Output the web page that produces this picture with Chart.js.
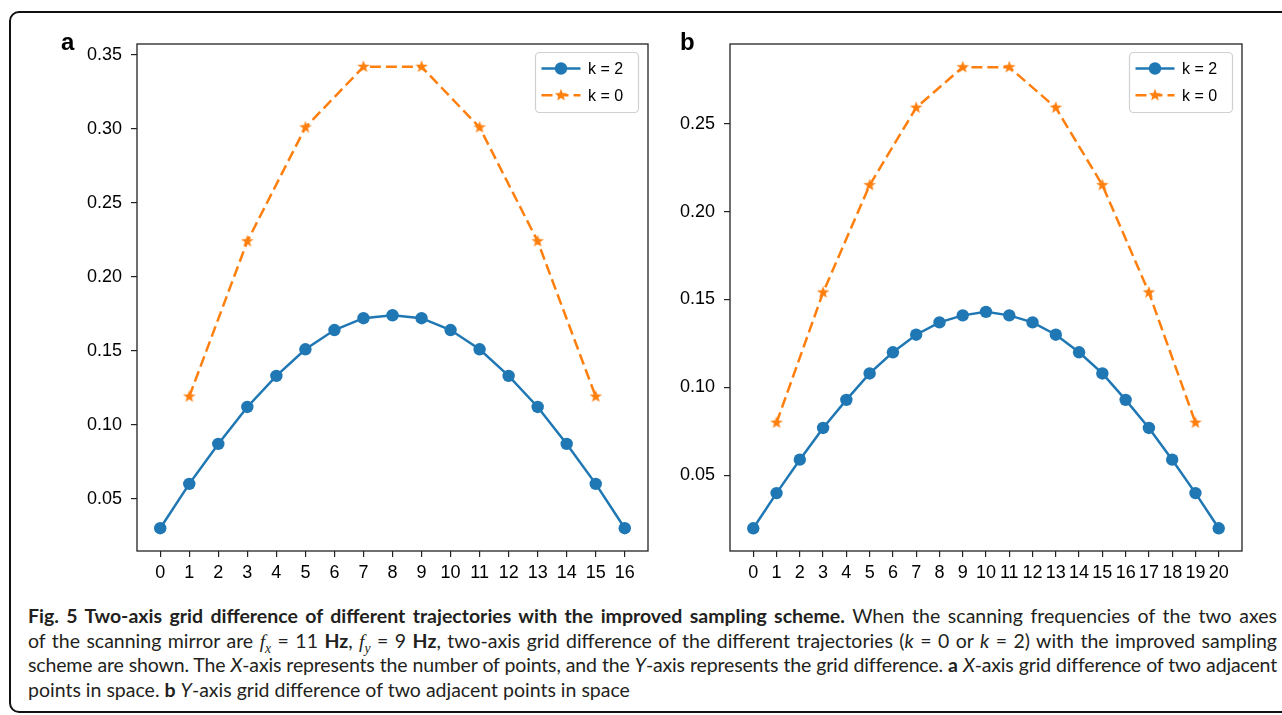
<!DOCTYPE html>
<html>
<head>
<meta charset="utf-8">
<script src="https://cdn.jsdelivr.net/npm/chart.js@4/dist/chart.umd.min.js"></script>
<style>
body{margin:0;background:#fff;width:1282px;height:715px;overflow:hidden;position:relative;font-family:"Liberation Sans",Arial,sans-serif}
#frame{position:absolute;left:9px;top:11px;width:1300px;height:702px;border:2px solid #111;border-radius:10px;box-sizing:border-box}
canvas{position:absolute;top:0}
#ca{left:0}
#cb{left:660px}
.lab{position:absolute;font-weight:bold;font-size:24px;line-height:24px;color:#000}
#caption{position:absolute;left:28px;top:604px;width:1249px;font-family:Lato,"Open Sans",sans-serif;font-size:19.5px;line-height:24.5px;color:#231f20}
#caption div{text-align:justify;text-align-last:justify;height:24.5px}
#caption div.last{text-align-last:left}
.mf{font-family:"Liberation Serif",serif;font-style:italic}
sub{font-size:70%;line-height:0}
</style>
</head>
<body>
<div id="frame"></div>
<canvas id="ca" width="660" height="600"></canvas>
<canvas id="cb" width="600" height="600"></canvas>
<div class="lab" style="left:61px;top:30px">a</div>
<div class="lab" style="left:680px;top:30px">b</div>
<div id="caption">
<div><b>Fig. 5 Two-axis grid difference of different trajectories with the improved sampling scheme.</b> When the scanning frequencies of the two axes</div>
<div>of the scanning mirror are <span class="mf">f</span><sub class="mf">x</sub> = 11 <b>Hz</b>, <span class="mf">f</span><sub class="mf">y</sub> = 9 <b>Hz</b>, two-axis grid difference of the different trajectories (<i>k</i> = 0 or <i>k</i> = 2) with the improved sampling</div>
<div>scheme are shown. The <i>X</i>-axis represents the number of points, and the <i>Y</i>-axis represents the grid difference. <b>a</b> <i>X</i>-axis grid difference of two adjacent</div>
<div class="last">points in space. <b>b</b> <i>Y</i>-axis grid difference of two adjacent points in space</div>
</div>
<script>
// panel a: X-axis grid difference
const pointsA = [0,1,2,3,4,5,6,7,8,9,10,11,12,13,14,15,16]
const kTwoA = [0.030,0.060,0.087,0.112,0.133,0.151,0.164,0.172,0.174,0.172,0.164,0.151,0.133,0.112,0.087,0.060,0.030]
const oddA = [1,3,5,7,9,11,13,15]
const kZeroA = [0.119,0.224,0.301,0.342,0.342,0.301,0.224,0.119]
const yTicksA = [0.05,0.10,0.15,0.20,0.25,0.30,0.35]

// panel b: Y-axis grid difference
const pointsB = [0,1,2,3,4,5,6,7,8,9,10,11,12,13,14,15,16,17,18,19,20]
const kTwoB = [0.020,0.040,0.059,0.077,0.093,0.108,0.120,0.130,0.137,0.141,0.143,0.141,0.137,0.130,0.120,0.108,0.093,0.077,0.059,0.040,0.020]
const oddB = [1,3,5,7,9,11,13,15,17,19]
const kZeroB = [0.080,0.154,0.215,0.259,0.282,0.282,0.259,0.215,0.154,0.080]
const yTicksB = [0.05,0.10,0.15,0.20,0.25]

const legendLabels = ["k = 2","k = 0"]

const BLUE = "#1f77b4"
const ORANGE = "#ff7f0e"
const FONT = "'Liberation Sans', Arial, sans-serif"

// squeeze letter spacing of a caption line only if it would not fit on one row
let cap = document.getElementById("caption")
let maxW = 1249
;[...cap.children].forEach(d => {
  d.style.display = "inline-block"
  d.style.whiteSpace = "nowrap"
  let w = d.getBoundingClientRect().width
  d.style.display = ""
  d.style.whiteSpace = ""
  if(w > maxW - 8){
    let ls = (maxW - 8 - w) / d.textContent.length
    d.style.letterSpacing = ls.toFixed(3) + "px"
  }
})

function starImage(color, r){
  let c = document.createElement("canvas")
  let s = Math.ceil(r*2+2)
  c.width = s; c.height = s
  let g = c.getContext("2d")
  g.fillStyle = color
  g.beginPath()
  for(let i=0;i<10;i++){
    let rad = i%2 ? r*0.4 : r
    let a = -Math.PI/2 + i*Math.PI/5
    g.lineTo(s/2 + rad*Math.cos(a), s/2 + rad*Math.sin(a))
  }
  g.closePath()
  g.fill()
  return c
}
const star = starImage(ORANGE, 6.6)

// box round the plot area, like matplotlib spines
const framePlugin = {
  id: "frame",
  afterDatasetsDraw(chart){
    let {ctx, chartArea:a} = chart
    ctx.save()
    ctx.strokeStyle = "#222"
    ctx.lineWidth = 1.3
    ctx.strokeRect(a.left, a.top, a.right-a.left, a.bottom-a.top)
    ctx.restore()
  }
}

// legend inside the top right corner, line + marker samples
const legendPlugin = {
  id: "innerLegend",
  afterDraw(chart){
    let {ctx, chartArea:a} = chart
    let w = 103, h = 60
    let x = a.right - 9.5 - w, y = a.top + 8.5
    ctx.save()
    ctx.fillStyle = "rgba(255,255,255,0.85)"
    ctx.strokeStyle = "#d0d0d0"
    ctx.lineWidth = 1.2
    ctx.beginPath()
    ctx.roundRect(x, y, w, h, 4)
    ctx.fill()
    ctx.stroke()
    chart.data.datasets.forEach((ds, i) => {
      let cy = y + 16 + i*26.7
      ctx.strokeStyle = ds.borderColor
      ctx.lineWidth = ds.borderWidth
      ctx.setLineDash(ds.borderDash || [])
      ctx.beginPath()
      ctx.moveTo(x+6, cy)
      ctx.lineTo(x+45, cy)
      ctx.stroke()
      ctx.setLineDash([])
      let mx = x + 25.5
      if(ds.pointStyle === "circle"){
        ctx.fillStyle = ds.pointBackgroundColor
        ctx.beginPath()
        ctx.arc(mx, cy, ds.pointRadius, 0, Math.PI*2)
        ctx.fill()
      } else {
        ctx.drawImage(ds.pointStyle, mx - ds.pointStyle.width/2, cy - ds.pointStyle.height/2)
      }
      ctx.fillStyle = "#000"
      ctx.font = "16px " + FONT
      ctx.textBaseline = "middle"
      ctx.fillText(ds.label, x + 52.5, cy + 1)
    })
    ctx.restore()
  }
}

function makeChart(id, xs, kTwo, odd, kZero, yTicks, yMin, yMax, xMin, xMax, yWidth, padRight){
  return new Chart(document.getElementById(id), {
    type: "line",
    data: {
      datasets: [{
        label: legendLabels[0],
        data: xs.map((x, i) => ({x: x, y: kTwo[i]})),
        borderColor: BLUE,
        borderWidth: 2.5,
        pointStyle: "circle",
        pointRadius: 6.2,
        pointBackgroundColor: BLUE,
        pointBorderWidth: 0,
        tension: 0
      },{
        label: legendLabels[1],
        data: odd.map((x, i) => ({x: x, y: kZero[i]})),
        borderColor: ORANGE,
        borderWidth: 2.5,
        borderDash: [11, 5],
        pointStyle: star,
        pointRadius: 6,
        pointBackgroundColor: ORANGE,
        tension: 0
      }]
    },
    options: {
      responsive: false,
      animation: false,
      events: [],
      layout: {padding: {top: 44, right: padRight, left: 0, bottom: 0}},
      plugins: {legend: {display: false}, tooltip: {enabled: false}},
      scales: {
        x: {
          type: "linear",
          min: xMin, max: xMax,
          afterBuildTicks: s => { s.ticks = xs.map(v => ({value: v})) },
          afterFit: s => { s.height = 49 },
          border: {display: false},
          grid: {drawOnChartArea: false, drawTicks: true, tickLength: 6, color: "#222", lineWidth: 1.2},
          ticks: {autoSkip: false, maxRotation: 0, padding: 5, color: "#000", font: {family: FONT, size: 18}, callback: v => String(v)}
        },
        y: {
          type: "linear",
          min: yMin, max: yMax,
          afterBuildTicks: s => { s.ticks = yTicks.map(v => ({value: v})) },
          afterFit: s => { s.width = yWidth },
          border: {display: false},
          grid: {drawOnChartArea: false, drawTicks: true, tickLength: 6, color: "#222", lineWidth: 1.2},
          ticks: {padding: 9, color: "#000", font: {family: FONT, size: 18}, callback: v => v.toFixed(2)}
        }
      }
    },
    plugins: [framePlugin, legendPlugin]
  })
}

makeChart("ca", pointsA, kTwoA, oddA, kZeroA, yTicksA, 0.0146, 0.3574, -0.8, 16.8, 137, 12)
makeChart("cb", pointsB, kTwoB, oddB, kZeroB, yTicksB, 0.0071, 0.2952, -1, 21, 70, 18)
</script>
</body>
</html>
